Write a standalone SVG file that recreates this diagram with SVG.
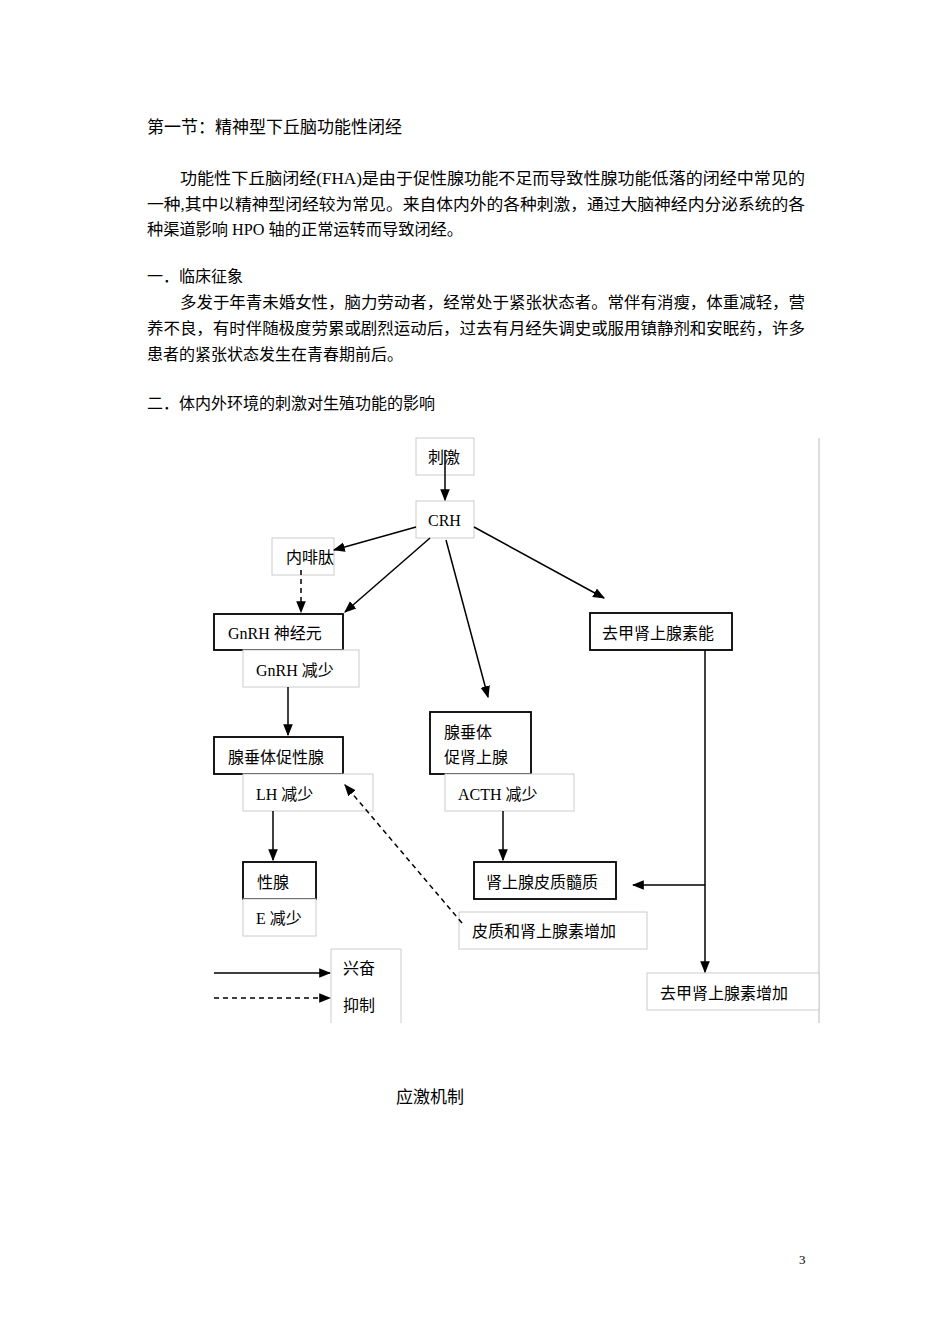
<svg xmlns="http://www.w3.org/2000/svg" width="950" height="1344" viewBox="0 0 950 1344">
<style>
text{font-family:"Liberation Serif","Noto Sans CJK SC",serif;font-size:16px;fill:#000}
.lt{fill:#fff;stroke:#ccc;stroke-width:1}
.dk{fill:#fff;stroke:#000;stroke-width:1.8}
.c{stroke:#000;stroke-width:1.5;fill:none}
.d{stroke-dasharray:5,4}
</style>
<defs><marker id="a" viewBox="0 0 10 10" refX="9" refY="5" markerWidth="8" markerHeight="8" orient="auto-start-reverse"><path d="M0,1L10,5L0,9z" fill="#000"/></marker></defs>
<rect width="950" height="1344" fill="#fff"/>
<text x="147" y="133" style="font-size:17px">第一节：精神型下丘脑功能性闭经</text>
<text x="180" y="184" textLength="625" lengthAdjust="spacingAndGlyphs">功能性下丘脑闭经(FHA)是由于促性腺功能不足而导致性腺功能低落的闭经中常见的</text>
<text x="147" y="210" textLength="658" lengthAdjust="spacingAndGlyphs">一种,其中以精神型闭经较为常见。来自体内外的各种刺激，通过大脑神经内分泌系统的各</text>
<text x="147" y="235" textLength="316" lengthAdjust="spacingAndGlyphs">种渠道影响 HPO 轴的正常运转而导致闭经。</text>
<text x="147" y="282">一．临床征象</text>
<text x="180" y="308" textLength="625" lengthAdjust="spacingAndGlyphs">多发于年青未婚女性，脑力劳动者，经常处于紧张状态者。常伴有消瘦，体重减轻，营</text>
<text x="147" y="334" textLength="658" lengthAdjust="spacingAndGlyphs">养不良，有时伴随极度劳累或剧烈运动后，过去有月经失调史或服用镇静剂和安眠药，许多</text>
<text x="147" y="360">患者的紧张状态发生在青春期前后。</text>
<text x="147" y="409">二．体内外环境的刺激对生殖功能的影响</text>
<line x1="819" y1="438" x2="819" y2="1023" stroke="#bbb"/>
<g id="n1"><rect class="lt" x="416" y="438" width="58" height="37"/><text x="428" y="463">刺激</text></g>
<g id="n2"><rect class="lt" x="416" y="501" width="58" height="37"/><text x="428" y="526">CRH</text></g>
<g id="n3"><rect class="lt" x="272" y="538" width="62" height="37"/><text x="286" y="563">内啡肽</text></g>
<g id="n4"><rect class="dk" x="214" y="614" width="129" height="36"/><text x="228" y="639">GnRH 神经元</text></g>
<g id="n5"><rect class="lt" x="243" y="650" width="116" height="37"/><text x="256" y="676">GnRH 减少</text></g>
<g id="n6"><rect class="dk" x="590" y="613" width="142" height="37"/><text x="602" y="639">去甲肾上腺素能</text></g>
<g id="n7"><rect class="dk" x="214" y="737" width="129" height="37"/><text x="228" y="763">腺垂体促性腺</text></g>
<g id="n8"><rect class="lt" x="243" y="774" width="130" height="37"/><text x="256" y="800">LH 减少</text></g>
<g id="n9"><rect class="dk" x="430" y="712" width="101" height="62"/><text x="444" y="738">腺垂体</text><text x="444" y="763">促肾上腺</text></g>
<g id="n10"><rect class="lt" x="445" y="774" width="129" height="37"/><text x="458" y="800">ACTH 减少</text></g>
<g id="n11"><rect class="dk" x="243" y="862" width="73" height="37"/><text x="257" y="888">性腺</text></g>
<g id="n12"><rect class="lt" x="243" y="899" width="73" height="37"/><text x="256" y="924">E 减少</text></g>
<g id="n13"><rect class="dk" x="474" y="862" width="142" height="37"/><text x="486" y="888">肾上腺皮质髓质</text></g>
<g id="n14"><rect class="lt" x="459" y="912" width="188" height="37"/><text x="472" y="937">皮质和肾上腺素增加</text></g>
<g id="n15"><rect class="lt" x="647" y="973" width="172" height="37"/><text x="660" y="999">去甲肾上腺素增加</text></g>
<g id="legend"><path d="M331,1023V949H401V1023" fill="none" stroke="#ccc"/><text x="343" y="974">兴奋</text><text x="343" y="1011">抑制</text></g>
<g id="connectors">
<line class="c" x1="445" y1="450" x2="445" y2="500" marker-end="url(#a)"/>
<line class="c" x1="416" y1="527" x2="334" y2="550" marker-end="url(#a)"/>
<line class="c" x1="430" y1="538" x2="345" y2="612" marker-end="url(#a)"/>
<line class="c" x1="446" y1="540" x2="488" y2="697" marker-end="url(#a)"/>
<line class="c" x1="474" y1="527" x2="604" y2="598" marker-end="url(#a)"/>
<line class="c d" x1="301" y1="570" x2="301" y2="612" marker-end="url(#a)"/>
<line class="c" x1="288" y1="687" x2="288" y2="735" marker-end="url(#a)"/>
<line class="c" x1="273" y1="811" x2="273" y2="860" marker-end="url(#a)"/>
<line class="c" x1="503" y1="811" x2="503" y2="860" marker-end="url(#a)"/>
<line class="c" x1="705" y1="650" x2="705" y2="972" marker-end="url(#a)"/>
<line class="c" x1="705" y1="885" x2="633" y2="885" marker-end="url(#a)"/>
<line class="c d" x1="462" y1="923" x2="345" y2="785" marker-end="url(#a)"/>
<line class="c" x1="214" y1="973" x2="330" y2="973" marker-end="url(#a)"/>
<line class="c d" x1="214" y1="998" x2="330" y2="998" marker-end="url(#a)"/>
</g>
<text x="396" y="1103" style="font-size:17px">应激机制</text>
<text x="799" y="1264" style="font-size:13px">3</text>
</svg>
